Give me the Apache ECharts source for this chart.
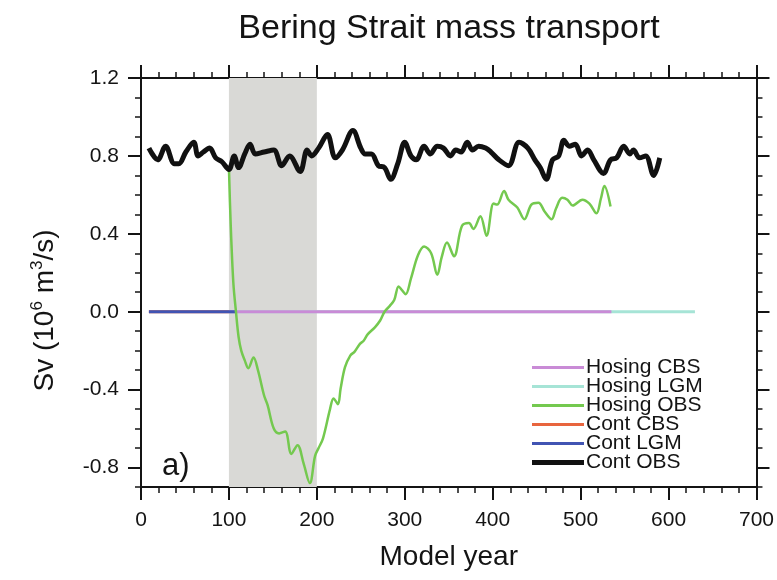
<!DOCTYPE html>
<html>
<head>
<meta charset="utf-8">
<script src="https://cdn.jsdelivr.net/npm/echarts@6/dist/echarts.min.js"></script>
<style>
  html, body { margin: 0; padding: 0; background: #ffffff; }
  #chart { width: 777px; height: 580px; }
</style>
</head>
<body>
<div id="chart"></div>
<script>
// Axis ticks
const xTicks = [0, 100, 200, 300, 400, 500, 600, 700];
const yTicks = [-0.8, -0.4, 0.0, 0.4, 0.8, 1.2];
const yRange = [-0.9, 1.2];

// Hosing period (model years)
const hosingPeriod = [100, 200];

// Series names, in legend order
const seriesNames = ['Hosing CBS', 'Hosing LGM', 'Hosing OBS', 'Cont CBS', 'Cont LGM', 'Cont OBS'];

// Mass transport (Sv) against model year
const hosingCbs = [[100, 0.0], [535, 0.0]];
const hosingLgm = [[100, 0.0], [630, 0.0]];
const contCbs = [[9, 0.0], [100, 0.0]];
const contLgm = [[9, 0.0], [108, 0.0]];

const hosingObs = [
  [100, 0.74], [102, 0.45], [105, 0.15], [108, 0.0], [111, -0.13], [114, -0.20],
  [118, -0.25], [122, -0.29], [128, -0.235], [133, -0.30], [140, -0.43], [144, -0.48],
  [151, -0.60], [157, -0.625], [164, -0.615], [171, -0.73], [178, -0.685], [185, -0.78],
  [192, -0.88], [198, -0.74], [202, -0.70], [207, -0.65], [215, -0.50], [219, -0.445],
  [224, -0.475], [227, -0.395], [232, -0.285], [238, -0.225], [243, -0.205], [249, -0.165],
  [253, -0.15], [258, -0.115], [266, -0.08], [272, -0.045], [277, 0.0], [283, 0.03],
  [288, 0.06], [293, 0.13], [297, 0.11], [301, 0.09], [307, 0.17], [315, 0.29],
  [322, 0.335], [330, 0.30], [337, 0.19], [342, 0.28], [348, 0.355], [356, 0.285],
  [365, 0.44], [373, 0.455], [378, 0.425], [386, 0.49], [393, 0.39], [401, 0.555],
  [405, 0.55], [413, 0.62], [418, 0.575], [428, 0.535], [436, 0.475], [444, 0.55],
  [452, 0.56], [459, 0.515], [467, 0.475], [472, 0.53], [479, 0.585], [485, 0.575],
  [491, 0.545], [502, 0.575], [510, 0.555], [518, 0.505], [523, 0.58], [527, 0.645],
  [534, 0.54]
];

const contObs = [
  [9, 0.84], [19, 0.78], [28, 0.85], [38, 0.76], [43, 0.76], [51, 0.82], [60, 0.87],
  [65, 0.80], [71, 0.82], [78, 0.84], [85, 0.79], [92, 0.77], [100, 0.73], [106, 0.80],
  [111, 0.74], [118, 0.81], [124, 0.86], [130, 0.81], [140, 0.82], [151, 0.83], [160, 0.75],
  [169, 0.80], [181, 0.72], [189, 0.83], [194, 0.80], [202, 0.84], [212, 0.91], [221, 0.79],
  [229, 0.83], [241, 0.93], [250, 0.84], [255, 0.81], [262, 0.81], [270, 0.75], [277, 0.74],
  [284, 0.68], [292, 0.76], [300, 0.87], [307, 0.80], [313, 0.78], [322, 0.85], [329, 0.81],
  [337, 0.85], [344, 0.84], [352, 0.80], [358, 0.83], [364, 0.82], [371, 0.87], [377, 0.83],
  [384, 0.85], [392, 0.84], [398, 0.82], [407, 0.78], [418, 0.75], [430, 0.87], [440, 0.84],
  [448, 0.78], [454, 0.74], [461, 0.68], [468, 0.78], [475, 0.80], [481, 0.88], [487, 0.85],
  [494, 0.86], [501, 0.80], [508, 0.83], [515, 0.78], [526, 0.71], [534, 0.78], [541, 0.79],
  [549, 0.85], [556, 0.81], [560, 0.83], [567, 0.79], [574, 0.80], [583, 0.70], [590, 0.79]
];

const FONT = '"Liberation Sans", Arial, Helvetica, sans-serif';
const INK = '#141414';

const chart = echarts.init(document.getElementById('chart'), null, { renderer: 'canvas' });

const frameLine = { show: true, onZero: false, lineStyle: { color: INK, width: 2 } };
const majorTick = (values, len) => ({ show: true, inside: false, length: len, customValues: values,
  lineStyle: { color: INK, width: 2 } });
const minorTickAxis = (pos) => ({
  type: 'value', position: pos, min: yRange[0], max: yRange[1], interval: 0.1,
  axisLine: { show: false, onZero: false }, axisLabel: { show: false }, splitLine: { show: false },
  axisTick: { show: true, inside: false, length: 6, lineStyle: { color: INK, width: 1.5 } }
});

function lineSeries(name, data, color, width, smooth) {
  return {
    name, type: 'line', data, xAxisIndex: 0, yAxisIndex: 0,
    symbol: 'none', smooth: smooth ? 0.35 : false, silent: true,
    lineStyle: { color, width }, itemStyle: { color }
  };
}

const hosingLgmSeries = lineSeries('Hosing LGM', hosingLgm, '#a6e4d6', 3, false);
hosingLgmSeries.markArea = {
  silent: true,
  itemStyle: { color: '#d9d9d6' },
  data: [[{ xAxis: hosingPeriod[0] }, { xAxis: hosingPeriod[1] }]]
};

// Legend keys are drawn as short bars; the control run is heavier
const legendKey = (name) => ({
  name,
  icon: name === 'Cont OBS' ? 'path://M0,0H52V5H0Z' : 'path://M0,0H52V3H0Z'
});

chart.setOption({
  animation: false,
  backgroundColor: '#ffffff',
  grid: { left: 141, right: 20, top: 78, bottom: 93, containLabel: false },
  legend: {
    data: seriesNames.map(legendKey),
    orient: 'vertical',
    left: 532, top: 357,
    padding: 0, itemGap: -2,
    itemWidth: 52, itemHeight: 19,
    symbolKeepAspect: true,
    selectedMode: false,
    textStyle: { fontFamily: FONT, fontSize: 21, color: INK, lineHeight: 19, padding: [0, 0, 0, -3] }
  },
  xAxis: [
    {
      type: 'value', position: 'bottom', min: xTicks[0], max: xTicks[xTicks.length - 1], interval: 100,
      axisLine: frameLine,
      axisTick: { show: true, inside: false, length: 13, lineStyle: { color: INK, width: 2 } },
      minorTick: { show: true, splitNumber: 5, length: 6, lineStyle: { color: INK, width: 1.5 } },
      splitLine: { show: false }, minorSplitLine: { show: false },
      axisLabel: { show: true, margin: 23, fontFamily: FONT, fontSize: 21, color: INK },
      name: 'Model year', nameLocation: 'middle', nameGap: 56, nameMoveOverlap: false,
      nameTextStyle: { fontFamily: FONT, fontSize: 28, color: INK }
    },
    {
      type: 'value', position: 'top', min: xTicks[0], max: xTicks[xTicks.length - 1], interval: 100,
      axisLine: frameLine,
      axisTick: { show: true, inside: false, length: 13, lineStyle: { color: INK, width: 2 } },
      minorTick: { show: true, splitNumber: 5, length: 6, lineStyle: { color: INK, width: 1.5 } },
      splitLine: { show: false }, minorSplitLine: { show: false },
      axisLabel: { show: false }
    }
  ],
  yAxis: [
    {
      type: 'value', position: 'left', min: yRange[0], max: yRange[1],
      axisLine: frameLine,
      axisTick: majorTick(yTicks, 13),
      splitLine: { show: false },
      axisLabel: { show: true, customValues: yTicks, margin: 22, fontFamily: FONT, fontSize: 21, color: INK,
        formatter: (v) => v.toFixed(1) },
      name: '{t|Sv (10}{s|6}{t| m}{s|3}{t|/s)}',
      nameLocation: 'middle', nameGap: 80, nameRotate: 90, nameMoveOverlap: false,
      nameTextStyle: {
        fontFamily: FONT, fontSize: 28, color: INK, padding: [0, 56, 0, 0],
        rich: {
          t: { fontFamily: FONT, fontSize: 28, color: INK, lineHeight: 32 },
          s: { fontFamily: FONT, fontSize: 17, color: INK, lineHeight: 32, verticalAlign: 'top', padding: [0, 0, 10, 0] }
        }
      }
    },
    minorTickAxis('left'),
    {
      type: 'value', position: 'right', min: yRange[0], max: yRange[1],
      axisLine: frameLine,
      axisTick: majorTick(yTicks, 13),
      splitLine: { show: false },
      axisLabel: { show: false }
    },
    minorTickAxis('right')
  ],
  graphic: [
    { type: 'text', x: 449, y: 29, silent: true,
      style: { text: 'Bering Strait mass transport', font: '34px ' + FONT, fill: INK, align: 'center', verticalAlign: 'middle' } },
    { type: 'text', x: 162, y: 466, silent: true,
      style: { text: 'a)', font: '31px ' + FONT, fill: INK, align: 'left', verticalAlign: 'middle' } }
  ],
  series: [
    hosingLgmSeries,
    lineSeries('Hosing CBS', hosingCbs, '#c98bd6', 3, false),
    lineSeries('Cont CBS', contCbs, '#e8653e', 3, false),
    lineSeries('Cont LGM', contLgm, '#4154b3', 3, false),
    lineSeries('Hosing OBS', hosingObs, '#74c94f', 2.5, true),
    lineSeries('Cont OBS', contObs, '#111111', 5, true)
  ]
});
</script>
</body>
</html>
